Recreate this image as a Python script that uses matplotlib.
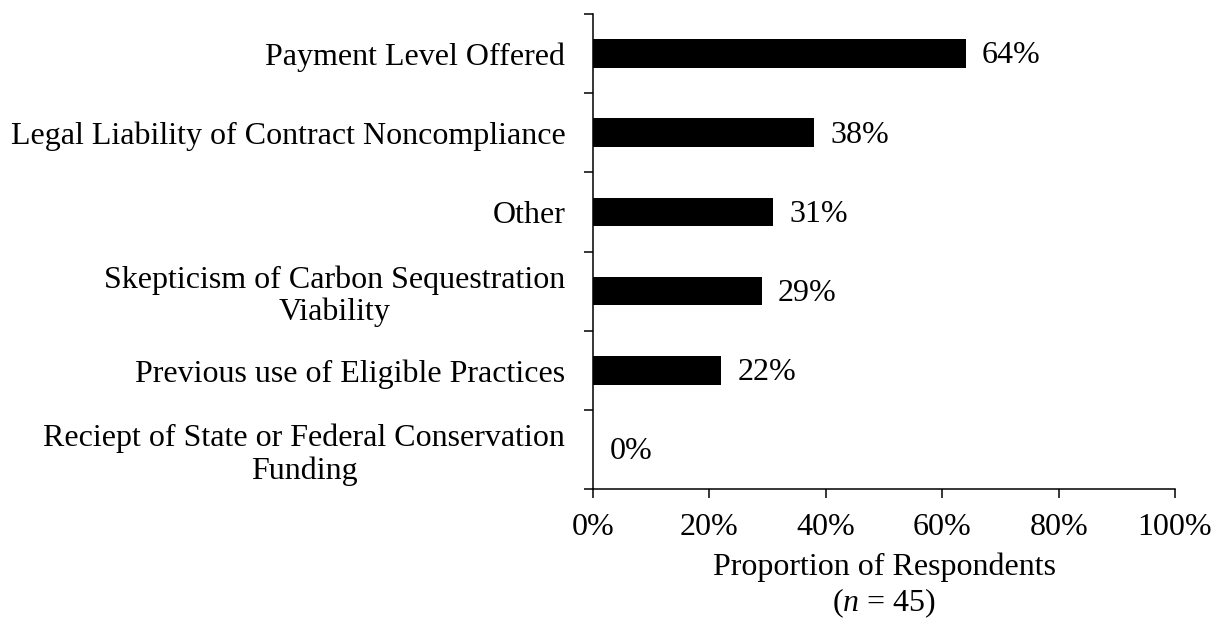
import numpy as np
import matplotlib.pyplot as plt
from matplotlib.ticker import FixedLocator, PercentFormatter

categories = [
    "Payment Level Offered",
    "Legal Liability of Contract Noncompliance",
    "Other",
    "Skepticism of Carbon Sequestration\nViability",
    "Previous use of Eligible Practices",
    "Reciept of State or Federal Conservation\nFunding",
]
values = [64, 38, 31, 29, 22, 0]
xticks = [0, 20, 40, 60, 80, 100]

plt.rcParams['font.family'] = ['Liberation Serif', 'DejaVu Serif']
plt.rcParams['mathtext.fontset'] = 'custom'
plt.rcParams['mathtext.it'] = 'Liberation Serif:italic'
plt.rcParams['mathtext.rm'] = 'Liberation Serif'

fs = 23
fig = plt.figure(figsize=(12.12, 6.24), dpi=100)
ax = fig.add_axes([0.4893, 0.2163, 0.4802, 0.7613])

y = np.arange(len(categories))
ax.barh(y, values, height=0.36, color='black')
for yi, v in zip(y, values):
    ax.text(v + 2.8, yi + 0.03, f"{v}%", va='center', ha='left', fontsize=fs)

ax.set_xlim(0, 100)
ax.set_ylim(len(categories) - 0.5, -0.5)
ax.set_xticks(xticks)
ax.xaxis.set_major_formatter(PercentFormatter(decimals=0))
ax.set_yticks(y)
ax.set_yticklabels(categories, fontsize=fs, multialignment='center', linespacing=1.15)
ax.yaxis.set_minor_locator(FixedLocator(np.arange(len(categories) + 1) - 0.5))
ax.tick_params(axis='y', which='major', length=0, pad=20)
ax.tick_params(axis='y', which='minor', length=6.5, width=1.1, direction='out')
ax.tick_params(axis='x', length=6.5, width=1.1, direction='out', labelsize=fs, pad=11)

for s in ['top', 'right']:
    ax.spines[s].set_visible(False)
ax.spines['left'].set_linewidth(1.1)
ax.spines['bottom'].set_linewidth(1.1)

ax.set_xlabel("Proportion of Respondents\n($n$ = 45)", fontsize=fs, labelpad=7, linespacing=1.2)

fig.savefig("out.png", dpi=100)
